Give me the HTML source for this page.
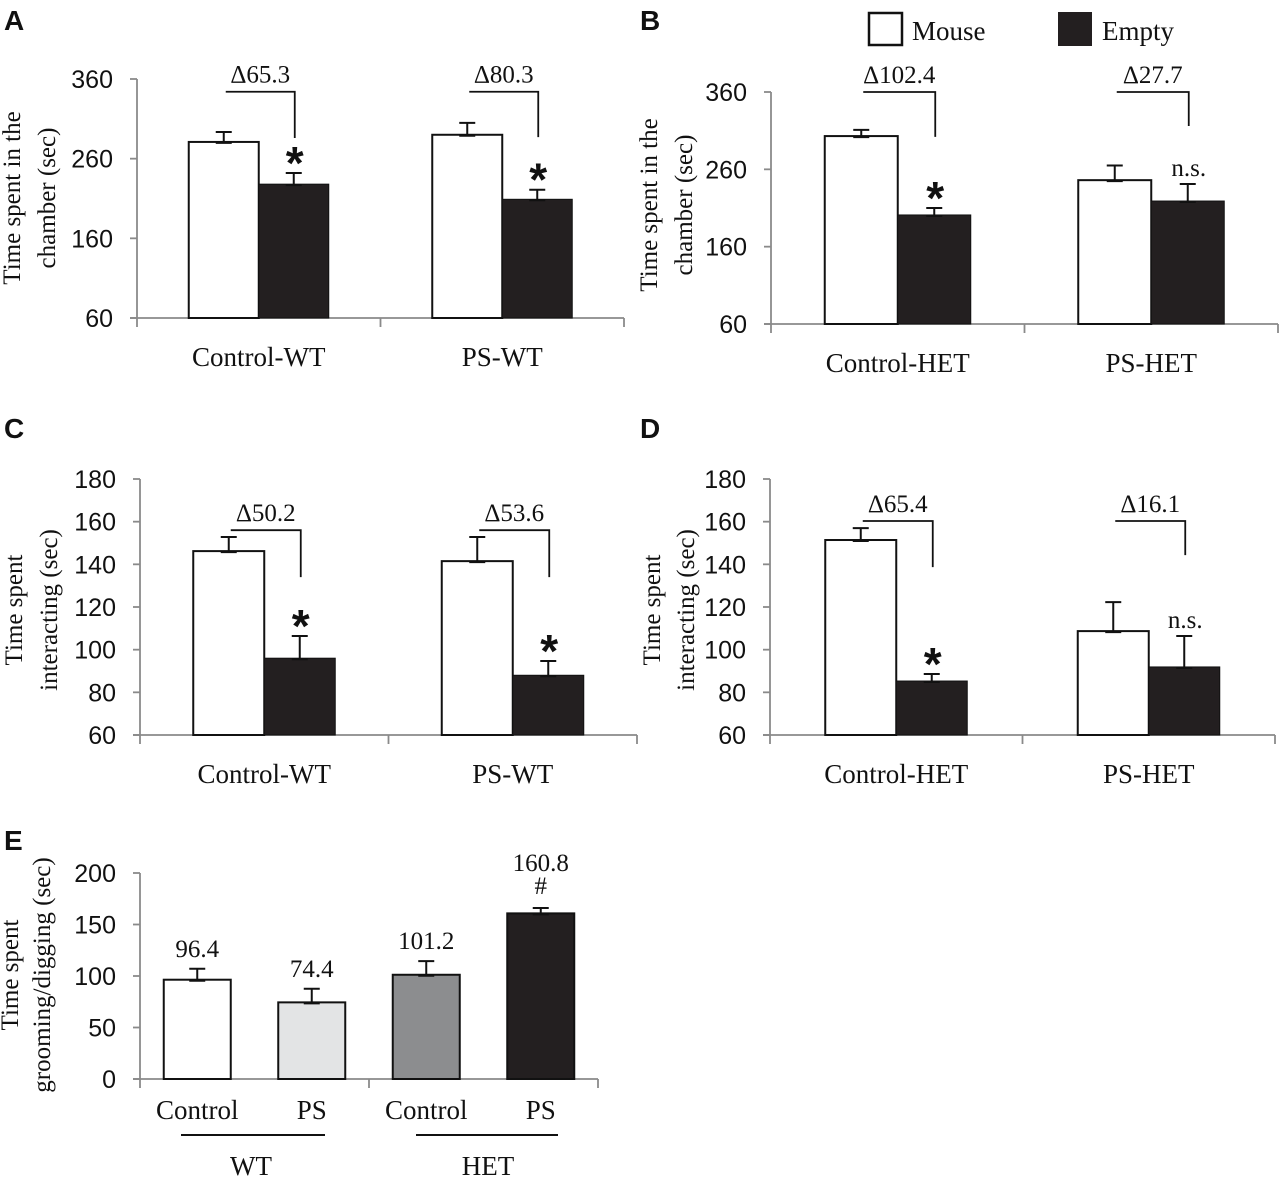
<!DOCTYPE html>
<html><head><meta charset="utf-8"><style>
body{margin:0;background:#fff}
svg{display:block}
.tk{font-family:"Liberation Sans",sans-serif;fill:#111}
.sf{font-family:"Liberation Serif",serif;fill:#111}
</style></head><body>
<svg id="fig" width="1280" height="1178" viewBox="0 0 1280 1178" xmlns="http://www.w3.org/2000/svg"></svg>
<script>
const NS="http://www.w3.org/2000/svg";
const svg=document.getElementById('fig');
// Panel A
const aCats=["Control-WT","PS-WT"];
const aMouse=[281,290], aMouseErr=[293.5,305];
const aEmpty=[228,209], aEmptyErr=[242,221];
const aDelta=["Δ65.3","Δ80.3"], aMarks=["*","*"];
const aBrTop=[344,344], aBrBot=[286,287];
const aTicks=[60,160,260,360];
// Panel B
const bCats=["Control-HET","PS-HET"];
const bMouse=[303,246], bMouseErr=[311,265];
const bEmpty=[201,219], bEmptyErr=[210,241];
const bDelta=["Δ102.4","Δ27.7"], bMarks=["*","n.s."];
const bBrTop=[360,360], bBrBot=[302,316];
const bTicks=[60,160,260,360];
// Panel C
const cCats=["Control-WT","PS-WT"];
const cMouse=[146.2,141.5], cMouseErr=[152.8,152.8];
const cEmpty=[96,88], cEmptyErr=[106.4,94.7];
const cDelta=["Δ50.2","Δ53.6"], cMarks=["*","*"];
const cBrTop=[156,156], cBrBot=[134,134];
const cTicks=[60,80,100,120,140,160,180];
// Panel D
const dCats=["Control-HET","PS-HET"];
const dMouse=[151.4,108.7], dMouseErr=[157,122.3];
const dEmpty=[85.3,91.9], dEmptyErr=[88.6,106.4];
const dDelta=["Δ65.4","Δ16.1"], dMarks=["*","n.s."];
const dBrTop=[160.3,160.3], dBrBot=[138.7,144.3];
const dTicks=[60,80,100,120,140,160,180];
// Panel E
const eCats=["Control","PS","Control","PS"];
const eVals=[96.4,74.4,101.2,160.8];
const eErr=[107,87.6,114.5,166];
const eLabels=["96.4","74.4","101.2","160.8"];
const eFills=["#ffffff","#e3e4e5","#8c8d8f","#231f20"];
const eTicks=[0,50,100,150,200];

function el(tag,attrs,parent){const e=document.createElementNS(NS,tag);for(const k in attrs)e.setAttribute(k,attrs[k]);(parent||svg).appendChild(e);return e;}
function txt(s,x,y,cls,parent,anchor,size,weight){const t=el('text',{x:x,y:y,class:cls,'text-anchor':anchor||'middle'},parent);t.style.fontSize=(size||24)+'px';if(weight)t.style.fontWeight=weight;t.textContent=s;return t;}

function axes(g,x0,x1,yS,ticks,nb){
  const yb=yS(ticks[0]), yt=yS(ticks[ticks.length-1]);
  const ya=el('line',{x1:x0,y1:yt,x2:x0,y2:yb,stroke:'#8a8a8a','stroke-width':1.8},g);
  
  const xa=el('line',{x1:x0-7,y1:yb,x2:x1,y2:yb,stroke:'#8a8a8a','stroke-width':1.8},g);
  
  ticks.forEach(v=>{
    el('line',{x1:x0-7,y1:yS(v),x2:x0,y2:yS(v),stroke:'#8a8a8a','stroke-width':1.8},g);
    const t=txt(String(v),x0-24,yS(v)+9,'tk',g,'end',25);
    
  });
  for(let i=0;i<=nb;i++){const xx=x0+(x1-x0)*i/nb;el('line',{x1:xx,y1:yb,x2:xx,y2:yb+9,stroke:'#8a8a8a','stroke-width':1.8},g);}
}
function errbar(g,x,yTop,yErr){
  el('line',{x1:x,y1:yTop,x2:x,y2:yErr,stroke:'#111','stroke-width':2},g);
  el('line',{x1:x-8,y1:yErr,x2:x+8,y2:yErr,stroke:'#111','stroke-width':2},g);
  el('line',{x1:x-8,y1:yTop+1,x2:x+8,y2:yTop+1,stroke:'#111','stroke-width':2},g);
}
function pairPanel(name,cfg){
  const g=el('g',{});
  
  const {x0,x1,yTopPx,yBotPx,ticks,cats,mouse,mouseErr,empty,emptyErr,delta,marks,brTop,brBot,bw}=cfg;
  const lo=ticks[0],hi=ticks[ticks.length-1];
  const yS=v=>yBotPx-(v-lo)/(hi-lo)*(yBotPx-yTopPx);
  const band=(x1-x0)/cats.length;
  const xC=i=>x0+(i+0.5)*band;
  axes(g,x0,x1,yS,ticks,cats.length);
  cats.forEach((c,i)=>{
    const cx=xC(i);
    const r1=el('rect',{x:cx-bw,y:yS(mouse[i]),width:bw,height:yS(lo)-yS(mouse[i]),fill:'#fff',stroke:'#111','stroke-width':2},g);
    
    const r2=el('rect',{x:cx,y:yS(empty[i]),width:bw,height:yS(lo)-yS(empty[i]),fill:'#231f20',stroke:'#111','stroke-width':1},g);
    
    errbar(g,cx-bw/2,yS(mouse[i]),yS(mouseErr[i]));
    errbar(g,cx+bw/2,yS(empty[i]),yS(emptyErr[i]));
    const lx=cx-bw/2+2, rx=cx+bw/2+1;
    const br=el('polyline',{points:`${lx},${yS(brTop[i])} ${rx},${yS(brTop[i])} ${rx},${yS(brBot[i])}`,fill:'none',stroke:'#111','stroke-width':1.8},g);
    
    const dl=txt(delta[i],(lx+rx)/2,yS(brTop[i])-9,'sf',g,'middle',25);
    
    let m;
    if(marks[i]==='*'){m=txt('*',rx,yS(emptyErr[i])+6,'tk',g,'middle',46,'bold');}
    else{m=txt(marks[i],rx,yS(emptyErr[i])-8,'sf',g,'middle',25);}
    
    const cl=txt(c,cx,yS(lo)+48,'sf',g,'middle',27);
    
  });
}
function ytitle(lines,xs,cy,name){
  lines.forEach((s,i)=>{
    const t=txt(s,xs[i],cy,'sf',svg,'middle',25);
    t.setAttribute('transform',`rotate(-90 ${xs[i]} ${cy})`);
    
  });
}
function letter(s,x,y){const t=txt(s,x,y,'tk',svg,'start',28,'bold');}

pairPanel('panel-a',{x0:137,x1:624,yTopPx:79,yBotPx:318,ticks:aTicks,cats:aCats,mouse:aMouse,mouseErr:aMouseErr,empty:aEmpty,emptyErr:aEmptyErr,delta:aDelta,marks:aMarks,brTop:aBrTop,brBot:aBrBot,bw:70});
pairPanel('panel-b',{x0:771,x1:1278,yTopPx:92,yBotPx:324,ticks:bTicks,cats:bCats,mouse:bMouse,mouseErr:bMouseErr,empty:bEmpty,emptyErr:bEmptyErr,delta:bDelta,marks:bMarks,brTop:bBrTop,brBot:bBrBot,bw:73});
pairPanel('panel-c',{x0:140,x1:637,yTopPx:479,yBotPx:735,ticks:cTicks,cats:cCats,mouse:cMouse,mouseErr:cMouseErr,empty:cEmpty,emptyErr:cEmptyErr,delta:cDelta,marks:cMarks,brTop:cBrTop,brBot:cBrBot,bw:71});
pairPanel('panel-d',{x0:770,x1:1275,yTopPx:479,yBotPx:735,ticks:dTicks,cats:dCats,mouse:dMouse,mouseErr:dMouseErr,empty:dEmpty,emptyErr:dEmptyErr,delta:dDelta,marks:dMarks,brTop:dBrTop,brBot:dBrBot,bw:71});

// Panel E
(function(){
  const g=el('g',{});
  
  const x0=140,x1=598,yTopPx=873,yBotPx=1079;
  const lo=eTicks[0],hi=eTicks[eTicks.length-1];
  const yS=v=>yBotPx-(v-lo)/(hi-lo)*(yBotPx-yTopPx);
  const band=(x1-x0)/eCats.length;const xC=i=>x0+(i+0.5)*band;
  axes(g,x0,x1,yS,eTicks,2);
  eCats.forEach((c,i)=>{
    const cx=xC(i),bw=67;
    const r=el('rect',{x:cx-bw/2,y:yS(eVals[i]),width:bw,height:yS(lo)-yS(eVals[i]),fill:eFills[i],stroke:'#111','stroke-width':2},g);
    
    errbar(g,cx,yS(eVals[i]),yS(eErr[i]));
    const vl=txt(eLabels[i],cx,i===3?yS(eErr[i])-37:yS(eErr[i])-12,'sf',g,'middle',25);
    
    const cl=txt(c,cx,1119,'sf',g,'middle',27);
    
  });
  const h=txt('#',xC(3),yS(eErr[3])-14,'sf',g,'middle',25);
  
  [[181,325,'WT',251],[416,558,'HET',488]].forEach(([a,b,s,c])=>{
    const l=el('line',{x1:a,y1:1135,x2:b,y2:1135,stroke:'#111','stroke-width':2},g);
    
    const t=txt(s,c,1175,'sf',g,'middle',27);
    
  });
})();

ytitle(["Time spent in the","chamber (sec)"],[20,55],198,'y-axis-title');
ytitle(["Time spent in the","chamber (sec)"],[657,692],205,'y-axis-title');
ytitle(["Time spent","interacting (sec)"],[22,57],610,'y-axis-title');
ytitle(["Time spent","interacting (sec)"],[660,694],610,'y-axis-title');
ytitle(["Time spent","grooming/digging (sec)"],[18,50],975,'y-axis-title');

letter('A',4,30);letter('B',640,30);letter('C',4,438);letter('D',640,438);letter('E',4,850);

// Legend
const lg=el('g',{});

const lb1=el('rect',{x:869,y:13,width:33,height:32,fill:'#fff',stroke:'#111','stroke-width':2.5},lg);

const lt1=txt('Mouse',912,40,'sf',lg,'start',27);

const lb2=el('rect',{x:1058,y:12,width:34,height:34,fill:'#231f20'},lg);

const lt2=txt('Empty',1102,40,'sf',lg,'start',27);

</script>
</body></html>
